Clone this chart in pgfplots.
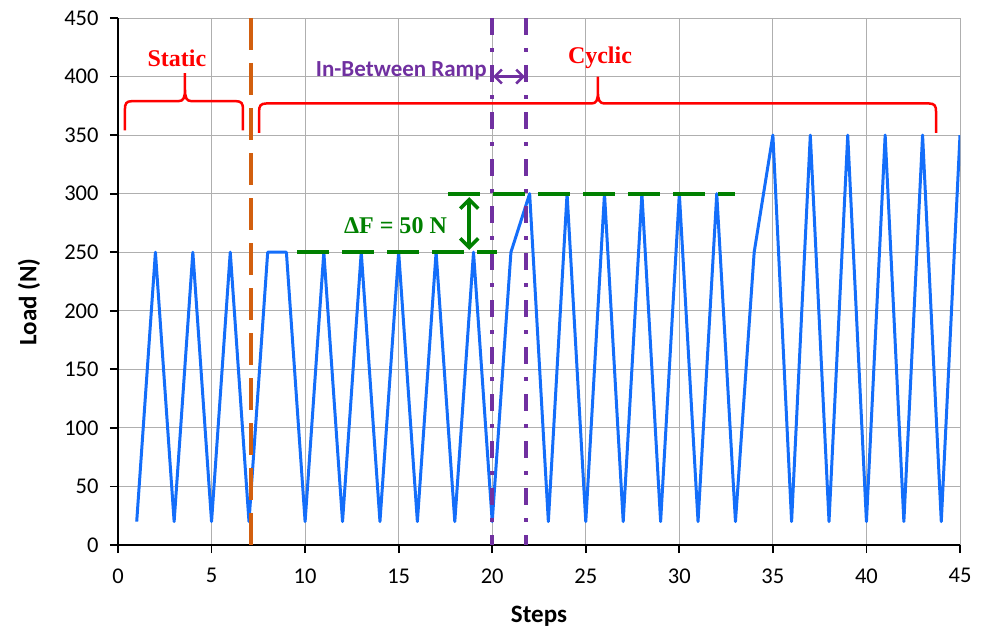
\documentclass[border=0pt]{standalone}
\usepackage{pgfplots}
\pgfplotsset{compat=1.18}
\usetikzlibrary{arrows.meta}
\usepackage{fontspec}
\setmainfont{Carlito}
\newfontfamily\annfont{Liberation Serif}
\definecolor{lineblue}{RGB}{20,110,250}
\definecolor{dorange}{RGB}{210,95,15}
\definecolor{dpurple}{RGB}{112,48,160}
\definecolor{dgreen}{RGB}{0,128,0}
\definecolor{gridgray}{RGB}{175,175,175}
\begin{document}
\begin{tikzpicture}
\useasboundingbox (-118bp,-86bp) rectangle (866bp,545bp);
\begin{axis}[
  at={(0,0)}, anchor=south west,
  scale only axis, width=842bp, height=527bp,
  xmin=0, xmax=45, ymin=0, ymax=450,
  xtick={0,5,...,45}, ytick={0,50,...,450},
  grid=major, grid style={color=gridgray, line width=0.9bp},
  axis x line*=bottom, axis y line*=left,
  x axis line style={-, line width=2.2bp, black},
  y axis line style={-, line width=2.2bp, black},
  tick pos=left, tick align=outside, major tick length=8bp,
  tick style={line width=1.8bp, black},
  /pgf/number format/assume math mode=true,
  ticklabel style={font=\fontsize{22.5bp}{22.5bp}\selectfont},
  xticklabel style={yshift=-12bp},
  yticklabel style={xshift=-8bp},
  xlabel={Steps}, ylabel={Load (N)},
  every axis x label/.style={at={(axis description cs:0.5,0)}, yshift=-71bp, anchor=center, font=\fontsize{25bp}{25bp}\selectfont\bfseries},
  every axis y label/.style={at={(axis description cs:0,0.461)}, xshift=-89bp, rotate=90, anchor=center, font=\fontsize{25bp}{25bp}\selectfont\bfseries},
]
\addplot[lineblue, line width=3bp, line join=round] coordinates {
(1,20) (2,250) (3,20) (4,250) (5,20) (6,250) (7,20) (8,250) (9,250) (10,20)
(11,250) (12,20) (13,250) (14,20) (15,250) (16,20) (17,250) (18,20) (19,250) (20,20)
(21,250) (22,300) (23,20) (24,300) (25,20) (26,300) (27,20) (28,300) (29,20) (30,300)
(31,20) (32,300) (33,20) (34,250) (35,350) (36,20) (37,350) (38,20) (39,350) (40,20)
(41,350) (42,20) (43,350) (44,20) (45,350)
};
% orange separator
\draw[dorange, line width=3.5bp, dash pattern=on 32bp off 13bp] (axis cs:7.1,450) -- (axis cs:7.1,0);
% purple dash-dot lines
\draw[dpurple, line width=3.5bp, dash pattern=on 17bp off 13bp on 4bp off 13bp] (axis cs:20,450) -- (axis cs:20,0);
\draw[dpurple, line width=3.5bp, dash pattern=on 17bp off 13bp on 4bp off 13bp] (axis cs:21.8,450) -- (axis cs:21.8,0);
\draw[dpurple, line width=2.5bp, {Straight Barb[length=7bp,width=14bp]}-{Straight Barb[length=7bp,width=14bp]}] (axis cs:20.05,400) -- (axis cs:21.75,400);
\node[dpurple, anchor=base east, inner sep=0pt, font=\fontsize{23bp}{23bp}\selectfont\bfseries] at (axis cs:19.72,400) {In-Between Ramp};
% green dashed levels
\draw[dgreen, line width=4bp, dash pattern=on 32bp off 13bp] (axis cs:9.57,250) -- (axis cs:20.26,250);
\draw[dgreen, line width=4bp, dash pattern=on 32bp off 13bp] (axis cs:17.64,300) -- (axis cs:32.98,300);
\draw[dgreen, line width=3.5bp, {Straight Barb[length=9bp,width=18bp]}-{Straight Barb[length=9bp,width=18bp]}] (axis cs:18.77,297) -- (axis cs:18.77,252);
\node[dgreen, anchor=base, inner sep=0pt, font=\annfont\fontsize{24bp}{24bp}\selectfont\bfseries] at (axis cs:14.83,266) {ΔF = 50 N};
% braces
\draw[red, line width=2.5bp] (axis cs:0.37,354) -- (axis cs:0.37,372) .. controls (axis cs:0.37,377) and (axis cs:0.45,379) .. (axis cs:0.75,379)
  -- (axis cs:3.23,379) .. controls (axis cs:3.5,379) and (axis cs:3.58,382) .. (axis cs:3.58,389) -- (axis cs:3.58,403)
  -- (axis cs:3.58,389) .. controls (axis cs:3.58,382) and (axis cs:3.66,379) .. (axis cs:3.93,379)
  -- (axis cs:6.3,379) .. controls (axis cs:6.6,379) and (axis cs:6.68,377) .. (axis cs:6.68,372) -- (axis cs:6.68,354);
\draw[red, line width=2.5bp] (axis cs:7.54,352) -- (axis cs:7.54,370) .. controls (axis cs:7.54,375) and (axis cs:7.62,377) .. (axis cs:7.92,377)
  -- (axis cs:25.3,377) .. controls (axis cs:25.57,377) and (axis cs:25.65,380) .. (axis cs:25.65,387) -- (axis cs:25.65,400)
  -- (axis cs:25.65,387) .. controls (axis cs:25.65,380) and (axis cs:25.73,377) .. (axis cs:26.0,377)
  -- (axis cs:43.35,377) .. controls (axis cs:43.64,377) and (axis cs:43.72,375) .. (axis cs:43.72,370) -- (axis cs:43.72,352);
\node[red, anchor=base, inner sep=0pt, font=\annfont\fontsize{24bp}{24bp}\selectfont\bfseries] at (axis cs:3.15,409) {Static};
\node[red, anchor=base, inner sep=0pt, font=\annfont\fontsize{24bp}{24bp}\selectfont\bfseries] at (axis cs:25.76,411) {Cyclic};
\end{axis}
\end{tikzpicture}
\end{document}
